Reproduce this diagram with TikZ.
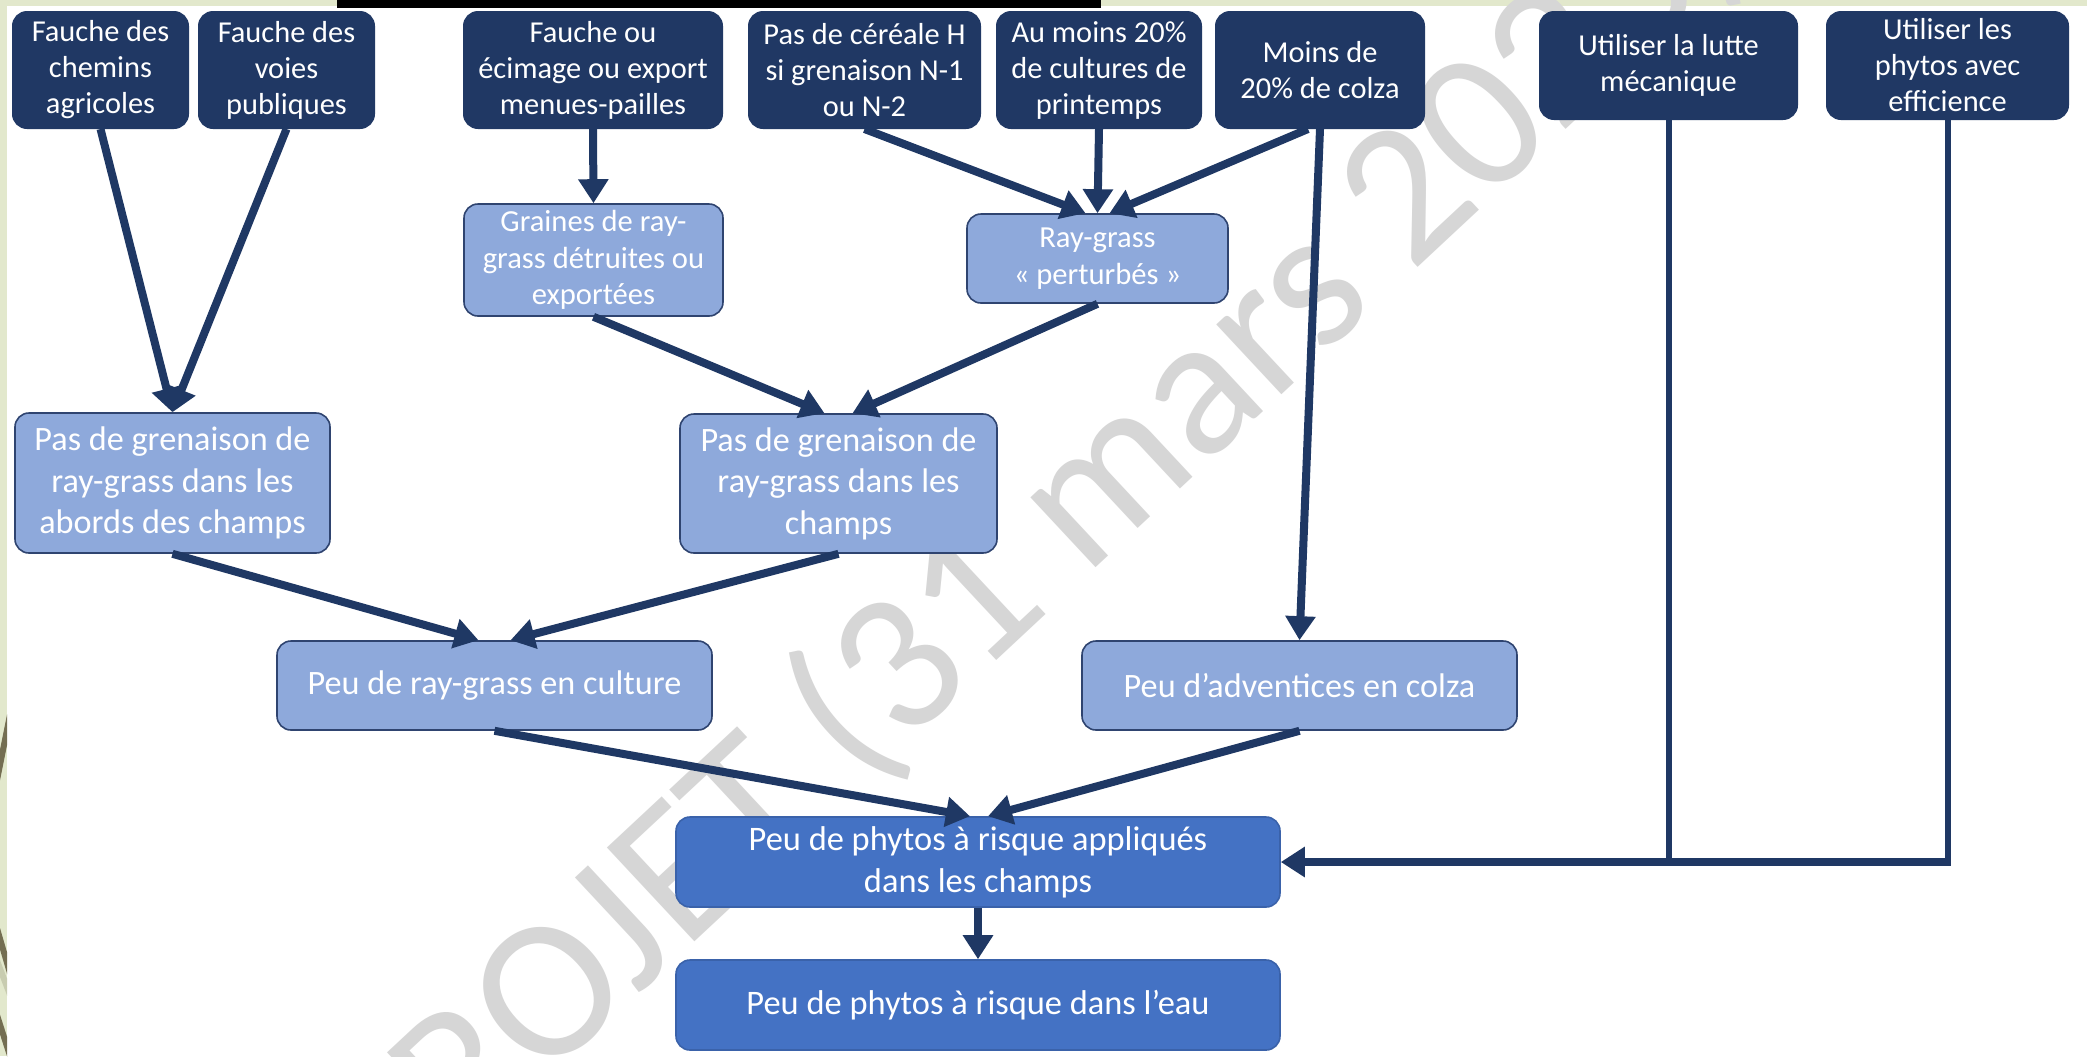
\documentclass[tikz,border=0pt]{standalone}
\usepackage{fontspec}
\setmainfont{Carlito}
\usetikzlibrary{arrows.meta}
\definecolor{navy}{HTML}{203864}
\definecolor{lightbox}{HTML}{8EA9DB}
\definecolor{lightborder}{HTML}{2F4470}
\definecolor{midbox}{HTML}{4472C4}
\definecolor{midborder}{HTML}{3A62AA}
\definecolor{arrowc}{HTML}{1F3864}
\definecolor{pale}{HTML}{E2E8CC}
\definecolor{olivec}{HTML}{746E52}
\definecolor{olivelight}{HTML}{C8CCB0}
\definecolor{wmgray}{HTML}{D6D6D6}
\tikzset{
  topbox/.style={draw=navy, fill=navy, rounded corners=7pt, text=white, align=center,
    inner sep=0pt, line width=1pt, font=\fontsize{15.2}{18}\selectfont},
  lightnode/.style={draw=lightborder, fill=lightbox, rounded corners=7pt, text=white, align=center,
    inner sep=0pt, line width=0.8pt, font=\fontsize{17.1}{20.7}\selectfont},
  lightsmall/.style={lightnode, font=\fontsize{15.3}{18.3}\selectfont},
  midnode/.style={draw=midborder, fill=midbox, rounded corners=7pt, text=white, align=center,
    inner sep=0pt, line width=0.8pt, font=\fontsize{17.2}{21}\selectfont},
  arr/.style={draw=arrowc, line width=4pt, -{Triangle[length=12pt,width=14.5pt]}},
  thinline/.style={draw=arrowc, line width=3pt},
}
\begin{document}
\begin{tikzpicture}[x=0.5pt,y=-0.5pt]
\useasboundingbox (0,0) rectangle (2087,1056);
\fill[white] (0,0) rectangle (2087,1056);
% edge decorations
\fill[pale] (0,0) rectangle (7,1056);
\fill[pale] (0,0) rectangle (2087,6);
\begin{scope}
  \clip (0,0) rectangle (7,1056);
  \draw[olivec, line width=3pt] (10,715) -- (-4,785);
  \draw[olivec, line width=3pt] (-4,925) -- (12,980);
  \draw[olivelight, line width=3pt] (-4,958) -- (12,1000);
  \draw[olivec, line width=3pt] (-4,1012) -- (12,1062);
\end{scope}
\fill[black] (337,0) rectangle (1101,8);
% watermark
\begin{scope}
  \clip (0,0) rectangle (2087,1056);
  \node[rotate=43, text=wmgray, font=\fontsize{100}{100}\selectfont, inner sep=0pt] (wm) at (1030,548) {PROJET (31 mars 2023)};
\end{scope}

% top row
\node[topbox, minimum width=87.5pt, minimum height=58pt] (A) at (100.5,70) {Fauche des\\chemins\\agricoles};
\node[topbox, minimum width=87.5pt, minimum height=58pt] (B) at (286.5,70) {Fauche des\\voies\\publiques};
\node[topbox, minimum width=129pt, minimum height=58pt] (C) at (593,70) {Fauche ou\\écimage ou export\\menues-pailles};
\node[topbox, minimum width=115.5pt, minimum height=58pt] (D) at (864.5,70) {Pas de céréale H\\si grenaison N-1\\ou N-2};
\node[topbox, minimum width=102pt, minimum height=58pt] (E) at (1099,70) {Au moins 20\%\\de cultures de\\printemps};
\node[topbox, minimum width=104pt, minimum height=58pt] (F) at (1320,70) {Moins de\\20\% de colza};
\node[topbox, minimum width=128.5pt, minimum height=53.5pt] (G) at (1668.5,65.5) {Utiliser la lutte\\mécanique};
\node[topbox, minimum width=120.5pt, minimum height=53.5pt] (H) at (1947.5,65.5) {Utiliser les\\phytos avec\\efficience};

% second row
\node[lightsmall, minimum width=129.5pt, minimum height=56pt] (graines) at (593.5,260) {Graines de ray-\\grass détruites ou\\exportées};
\node[lightsmall, minimum width=130.5pt, minimum height=44.5pt] (pert) at (1097.5,258.5) {Ray-grass\\« perturbés »};

% third row
\node[lightnode, minimum width=157.5pt, minimum height=70pt] (abords) at (172.5,483) {Pas de grenaison de\\ray-grass dans les\\abords des champs};
\node[lightnode, minimum width=158.5pt, minimum height=69.5pt] (champs) at (838.5,483.5) {Pas de grenaison de\\ray-grass dans les\\champs};

% fourth row
\node[lightnode, minimum width=217.5pt, minimum height=44.5pt] (culture) at (494.5,685.5) {Peu de ray-grass en culture};
\node[lightnode, minimum width=217.5pt, minimum height=44.5pt] (adv) at (1299.5,685.5) {Peu d’adventices en colza};

% bottom
\node[midnode, minimum width=302pt, minimum height=45pt] (phytos) at (978,862) {Peu de phytos à risque appliqués\\dans les champs};
\node[midnode, minimum width=302pt, minimum height=45pt] (eau) at (978,1005) {Peu de phytos à risque dans l’eau};

% connectors
\draw[arr] (A.south) -- (abords.north);
\draw[arr] (B.south) -- (abords.north);
\draw[arr] (C.south) -- (graines.north);
\draw[arr] (D.south) -- ([xshift=-6pt]pert.north);
\draw[arr] (E.south) -- (pert.north);
\draw[arr] ([xshift=-6pt]F.south) -- ([xshift=6pt]pert.north);
\draw[arr] (F.south) -- (adv.north);
\draw[arr] (graines.south) -- ([xshift=-7pt]champs.north);
\draw[arr] (pert.south) -- ([xshift=7pt]champs.north);
\draw[arr] (abords.south) -- ([xshift=-8pt]culture.north);
\draw[arr] (champs.south) -- ([xshift=8pt]culture.north);
\draw[arr] (culture.south) -- ([xshift=-4pt]phytos.north);
\draw[arr] (adv.south) -- ([xshift=5pt]phytos.north);
\draw[arr] (phytos.south) -- (eau.north);
\coordinate (gj) at (G.south |- phytos.east);
\coordinate (hj) at (H.south |- phytos.east);
\draw[thinline] (G.south) -- ([yshift=-1pt]gj);
\draw[thinline] (H.south) -- ([yshift=-1pt]hj);
\draw[arr] ([xshift=1.5pt]hj) -- (phytos.east);
\end{tikzpicture}
\end{document}
